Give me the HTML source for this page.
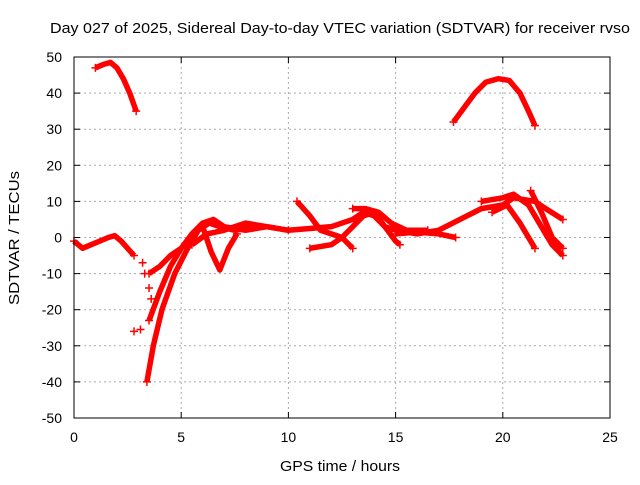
<!DOCTYPE html>
<html><head><meta charset="utf-8"><style>
body{margin:0;background:#fff}
svg text{font-family:"Liberation Sans",sans-serif;font-size:14px;fill:#000}
</style></head><body>
<svg id="c" width="640" height="480">
<rect width="640" height="480" fill="#fff"/>
<text x="340" y="33" text-anchor="middle" textLength="580" lengthAdjust="spacingAndGlyphs" style="font-size:15px">Day 027 of 2025, Sidereal Day-to-day VTEC variation (SDTVAR) for receiver rvso</text>
<text x="340" y="471" text-anchor="middle" textLength="120" lengthAdjust="spacingAndGlyphs" style="font-size:15px">GPS time / hours</text>
<text transform="translate(19,238) rotate(-90)" text-anchor="middle" textLength="134" lengthAdjust="spacingAndGlyphs" style="font-size:15px">SDTVAR / TECUs</text>
<g id="grid"></g><g id="ticks"></g><g id="marks"></g>
<rect x="74" y="57" width="536" height="361" fill="none" stroke="#000"/>
</svg>
<script>
const xTicks=[0,5,10,15,20,25];
const yTicks=[-50,-40,-30,-20,-10,0,10,20,30,40,50];
const s1t=[1.0,1.4,1.7,2.0,2.3,2.6,2.9], s1v=[47,48,48.5,47,44,40,35];
const s2t=[17.7,18.2,18.7,19.2,19.8,20.3,20.8,21.2,21.5], s2v=[32,36,40,43,44,43.5,40,35,31];
const s3t=[0,0.4,0.8,1.2,1.6,1.9,2.2,2.5,2.8], s3v=[-1,-3,-2,-1,0,0.5,-1,-3,-5];
const s4t=[3.4,3.7,4.1,4.7,5.3,5.8,6.3,6.8,7.5,8.5], s4v=[-40,-30,-20,-10,-3,2,4,3,2,3];
const s5t=[3.5,4.0,4.5,5,5.5,6,6.5,7,8,9,10,11,12,13,13.5,14,14.5,15,16,17,18,19,20,20.5,21.5,22,22.8], s5v=[-23,-15,-8,-3,1,4,5,3,2,3,2,2.5,3,5,7,6,3,2,1,2,5,8,9,11,10,8,5];
const s6t=[3.5,4.0,4.5,5.0], s6v=[-10,-8,-5,-3];
const s7t=[6.0,6.4,6.8,7.2,7.6], s7v=[3,-4,-9,-3,1];
const s8t=[10.4,11.0,11.5,12.5,13.0], s8v=[10,6,2,0,-3];
const s9t=[11,12,12.5,13,13.5,14,14.5,15,15.2], s9v=[-3,-2,0,3,6,7,3,-1,-2];
const s10t=[19,20,20.5,21.2,21.8,22.3,22.8], s10v=[10,11,12,9,3,-2,-5];
const s11t=[21.3,21.8,22.3,22.8], s11v=[13,7,0,-3];
const s12t=[19.5,20.2,20.8,21.2,21.5], s12v=[7,9,4,0,-3];
const s13t=[15,16,17,17.8], s13v=[1,1.5,1,0];
const s14t=[13,13.6,14.2,14.8,15.5,16.5], s14v=[8,8,7,4,2,2];
const s15t=[5.5,6.2,7,8,9,10], s15v=[-2,1,2,4,3,2];
const dotT=[3.2,3.3,2.8,3.1,3.5,3.6], dotV=[-7,-10,-26,-25.5,-14,-17];
const X=t=>74+t/25*536, Y=v=>237.5-v/100*361;
const NS="http://www.w3.org/2000/svg";
const g=document.getElementById('grid'),tk=document.getElementById('ticks'),mk=document.getElementById('marks');
function el(n,a,p){const e=document.createElementNS(NS,n);for(const k in a)e.setAttribute(k,a[k]);p.appendChild(e);return e;}
xTicks.forEach(t=>{const x=X(t);
 if(t>0&&t<25){const l=el('line',{x1:x,x2:x,y1:57,y2:418,stroke:'#aaa','stroke-dasharray':'2,3'},g);
 
 }
 const tx=el('text',{x:x,y:442,'text-anchor':'middle'},tk);tx.textContent=t;
 
 
 el('line',{x1:x,x2:x,y1:418,y2:412,stroke:'#000'},tk);el('line',{x1:x,x2:x,y1:57,y2:63,stroke:'#000'},tk);});
yTicks.forEach(v=>{const y=Y(v);
 if(v>-50&&v<50){const l=el('line',{x1:74,x2:610,y1:y,y2:y,stroke:'#aaa','stroke-dasharray':'2,3'},g);
 
 }
 const tx=el('text',{x:62,y:y+5,'text-anchor':'end'},tk);tx.textContent=v;
 
 
 el('line',{x1:74,x2:80,y1:y,y2:y,stroke:'#000'},tk);el('line',{x1:610,x2:604,y1:y,y2:y,stroke:'#000'},tk);});
const series=[[s1t,s1v],[s2t,s2v],[s3t,s3v],[s4t,s4v],[s5t,s5v],[s6t,s6v],[s7t,s7v],[s8t,s8v],[s9t,s9v],[s10t,s10v],[s11t,s11v],[s12t,s12v],[s13t,s13v],[s14t,s14v],[s15t,s15v]];
function plus(x,y){const p=el('path',{d:`M${x-4},${y}h8M${x},${y-4}v8`,stroke:'#f00','stroke-width':1.5},mk);
 
 }
series.forEach(([ts,vs],i)=>{
 const pts=ts.map((t,j)=>X(t)+','+Y(vs[j])).join(' ');
 const pl=el('polyline',{points:pts,fill:'none',stroke:'#f00','stroke-width':5.5,'stroke-linejoin':'round'},mk);
 
 
 plus(X(ts[0]),Y(vs[0]));plus(X(ts[ts.length-1]),Y(vs[vs.length-1]));});
dotT.forEach((t,j)=>plus(X(t),Y(dotV[j])));
</script>
</body></html>
